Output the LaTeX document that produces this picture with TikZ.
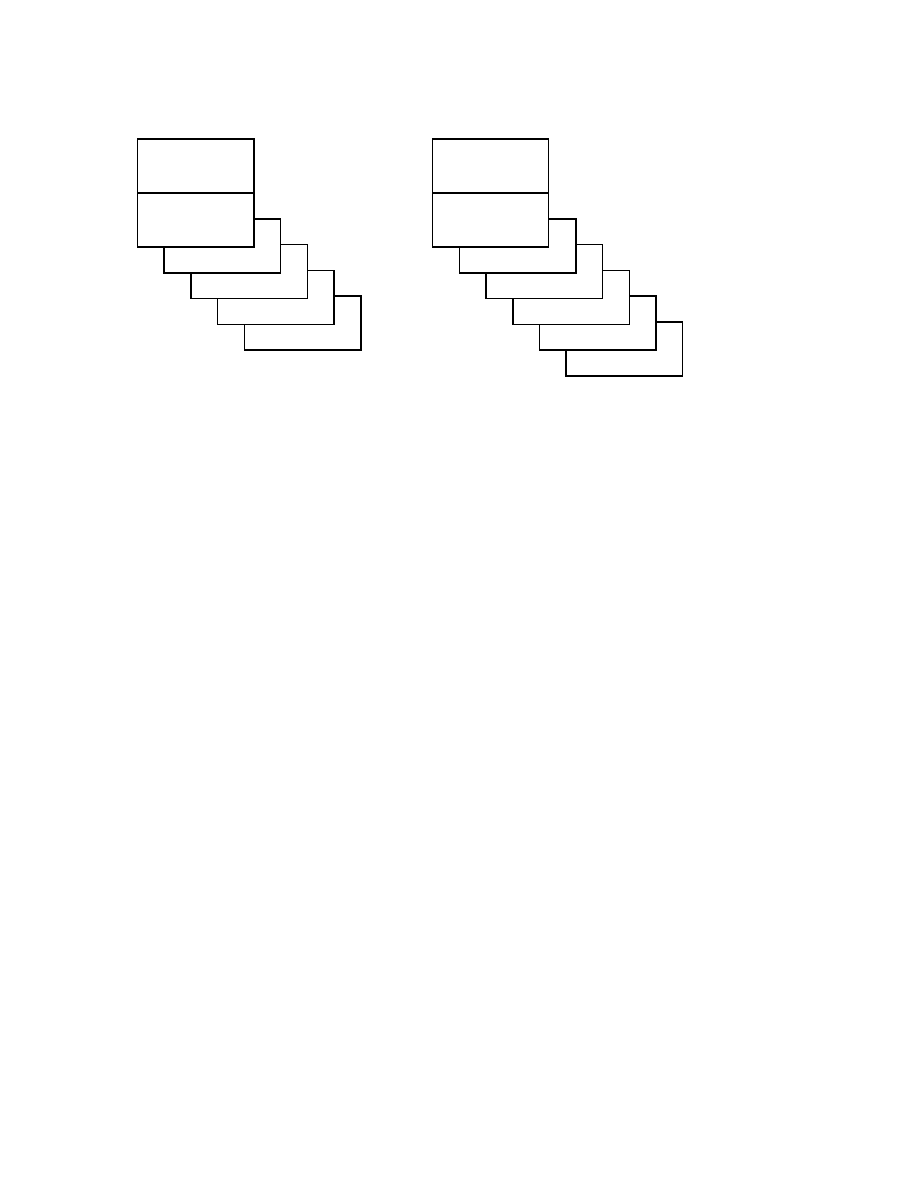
\documentclass[tikz,border=0pt]{standalone}
\begin{document}
\begin{tikzpicture}[x=0.6667pt,y=-0.6667pt,line width=1pt]
\useasboundingbox (0,0) rectangle (918,1188);
% left stack
\foreach \i in {4,3,2,1}
    \draw[fill=white] (137.5+26.7*\i,193+25.8*\i) rectangle ++(116.5,54);
\draw[fill=white] (137.5,139) rectangle (254,247);
\draw (137.5,193) -- (254,193);
% right stack
\foreach \i in {5,4,3,2,1}
    \draw[fill=white] (432.7+26.7*\i,193+25.8*\i) rectangle ++(116.5,54);
\draw[fill=white] (432.7,139) rectangle (548.5,247);
\draw (432.7,193) -- (548.5,193);
\end{tikzpicture}
\end{document}
